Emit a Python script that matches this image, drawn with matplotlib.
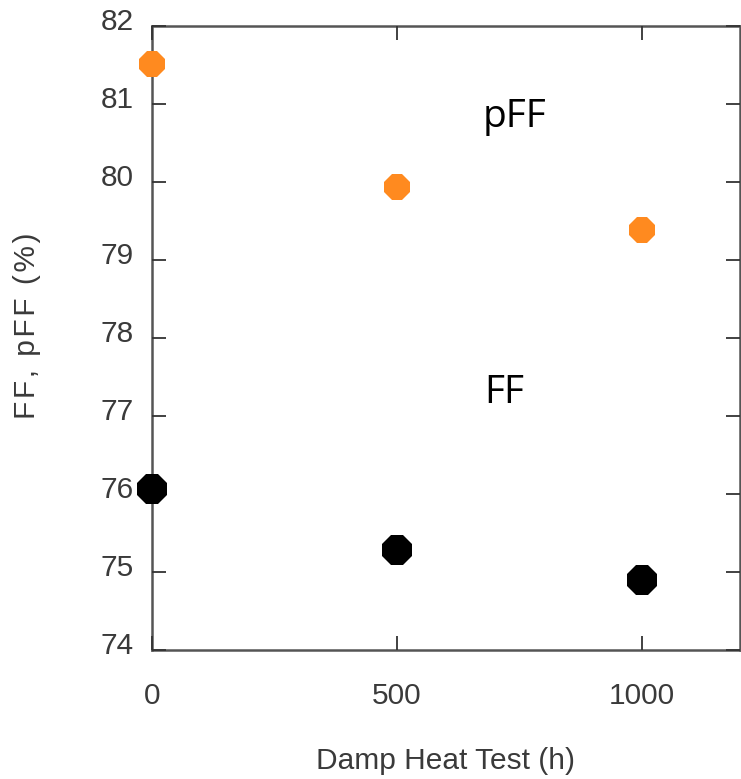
import matplotlib
matplotlib.use("Agg")
import matplotlib.pyplot as plt
import matplotlib.transforms as mtransforms

# damp heat test duration (h)
hours = [0, 500, 1000]
# pseudo fill factor and fill factor (%)
pff = [81.51, 79.94, 79.38]
ff = [76.07, 75.28, 74.90]

x_ticks = [0, 500, 1000]
y_ticks = [74, 75, 76, 77, 78, 79, 80, 81, 82]

plt.rcParams['font.family'] = ['Liberation Sans', 'DejaVu Sans']

fig = plt.figure(figsize=(7.41, 7.79), dpi=100)
ax = fig.add_axes([0.2051, 0.1656, 0.7935, 0.801])

for side in ax.spines.values():
    side.set_color('#555555')
    side.set_linewidth(1.8)
    side.set_zorder(1)

ax.plot(hours, pff, linestyle='none', marker='8', markersize=20.5,
        color='#ff8a1f', markeredgewidth=0, clip_on=False, zorder=3)
ax.plot(hours, ff, linestyle='none', marker='8', markersize=24,
        color='black', markeredgewidth=0, clip_on=False, zorder=3)

ax.set_xlim(0, 1200)
ax.set_ylim(74, 82)
ax.set_xticks(x_ticks)
ax.set_yticks(y_ticks)

ax.tick_params(axis='both', direction='in', length=10, width=1.3,
               color='#333333', top=True, right=True,
               labelsize=21.5, labelcolor='#3a3a3a')
ax.tick_params(axis='y', pad=13)
ax.tick_params(axis='x', pad=23)

# nudge y tick labels up a little
shift = mtransforms.ScaledTranslation(0, 5 / 72, fig.dpi_scale_trans)
for lab in ax.get_yticklabels():
    lab.set_transform(lab.get_transform() + shift)

ax.set_xlabel('Damp Heat Test (h)', fontsize=21.5, color='#3a3a3a', labelpad=27)

# spaced-out y label
ylab = '\u200a'.join('FF, pFF (%)')
fig.text(27 / 741, 1 - 326 / 779, ylab, rotation=90, ha='center',
         va='center', fontsize=21.5, color='#3a3a3a')

ax.text(674, 80.71, 'pFF', fontsize=28, family='Open Sans', color='black')
ax.text(678, 77.17, 'FF', fontsize=28, family='Open Sans', color='black')

fig.savefig('out.png', dpi=100)
